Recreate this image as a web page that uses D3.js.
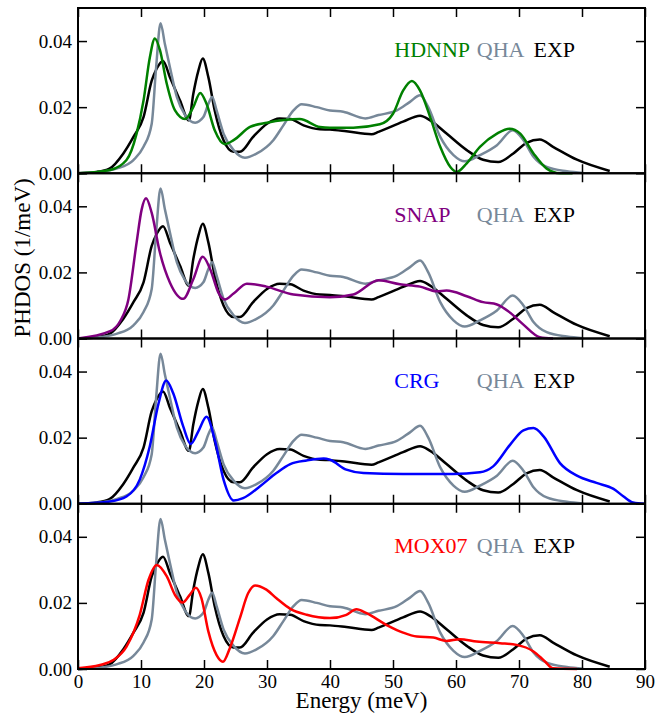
<!DOCTYPE html>
<html>
<head>
<meta charset="utf-8">
<script src="https://cdn.jsdelivr.net/npm/d3@7/dist/d3.min.js"></script>
<style>
  body { margin: 0; background: #fff; }
  text { font-family: "Liberation Serif", "Times New Roman", serif; }
</style>
</head>
<body>
<div id="chart"></div>
<script>
			// Width and height
			var w = 655, h = 716;

			// Measured spectra (energy in meV, PHDOS in 1/meV)
			var expEnergy = [0, 3, 5, 7.2, 8.8, 10.4, 11.7, 12.5, 13.5, 14.6, 16.2, 17.6, 18.3, 19.1, 19.8, 20.7, 21.7, 23.1, 24.7, 25.7, 27.8, 30, 32, 33.7, 35.8, 38.4, 40, 42.6, 46.6, 47.7, 51.6, 54.3, 55.9, 58.5, 61.7, 64.3, 66.7, 69.1, 71.2, 73.3, 75.4, 79.2, 84.4];
			var expDos = [0, 0.0004, 0.0014, 0.006, 0.011, 0.017, 0.028, 0.0317, 0.034, 0.029, 0.022, 0.016, 0.024, 0.031, 0.0347, 0.029, 0.019, 0.010, 0.0065, 0.0065, 0.011, 0.015, 0.0166, 0.0164, 0.0145, 0.0133, 0.0132, 0.0127, 0.0118, 0.0125, 0.0156, 0.0174, 0.016, 0.012, 0.007, 0.0041, 0.0034, 0.006, 0.0092, 0.0102, 0.008, 0.0041, 0.0007];

			var qhaEnergy = [0, 3, 6.1, 8.8, 10.4, 11.7, 12.4, 13.1, 13.8, 14.6, 15.7, 17, 18.6, 19.9, 20.7, 21.3, 22, 23.1, 24.7, 26.5, 28.4, 31, 32.6, 34.2, 35.5, 37.9, 40, 42.1, 45.6, 47.7, 50.6, 52.7, 54.3, 55.6, 57.5, 59.6, 61.4, 63.8, 66.5, 69, 70.7, 72.3, 74.4, 77.6, 80.2];
			var qhaDos = [0, 0.0003, 0.0014, 0.004, 0.008, 0.015, 0.032, 0.0454, 0.039, 0.032, 0.023, 0.0176, 0.0153, 0.017, 0.021, 0.0231, 0.019, 0.012, 0.007, 0.0047, 0.006, 0.010, 0.0145, 0.019, 0.0209, 0.020, 0.019, 0.0186, 0.0166, 0.0176, 0.019, 0.0216, 0.0236, 0.020, 0.011, 0.0055, 0.0036, 0.0055, 0.0085, 0.013, 0.010, 0.005, 0.0019, 0.0006, 0.0001];

			// Model spectra, one per panel
			var hdnnpEnergy = [0, 5.1, 7.7, 9.3, 10.4, 11.4, 12.2, 13, 14.1, 15.4, 17, 18.3, 19.4, 20.4, 21.7, 23.3, 24.7, 27.3, 30, 35.2, 38.4, 40, 43.7, 47.9, 50, 51.6, 53, 54.3, 55.9, 57.5, 59.1, 60.1, 61.7, 63.8, 66.5, 68.5, 70.2, 72.3, 74.4, 76.5, 78.5];
			var hdnnpDos = [0, 0.001, 0.004, 0.012, 0.022, 0.035, 0.0408, 0.0373, 0.027, 0.019, 0.0164, 0.020, 0.0243, 0.021, 0.013, 0.0088, 0.010, 0.014, 0.0153, 0.0164, 0.014, 0.0138, 0.0138, 0.0148, 0.018, 0.025, 0.0279, 0.025, 0.017, 0.008, 0.0019, 0.0004, 0.003, 0.008, 0.012, 0.0135, 0.012, 0.006, 0.0014, 0, 0];

			var snapEnergy = [0, 5.1, 6.7, 8, 9.3, 10.1, 10.8, 11.7, 13, 14.6, 16.7, 18.3, 19.8, 21, 22.3, 23.3, 24.7, 26.8, 29.9, 34.2, 40, 43.7, 47.7, 51.1, 54.3, 56.9, 58.5, 61.7, 64.3, 66.5, 68.6, 70.7, 73.3, 75.4];
			var snapDos = [0, 0.0022, 0.0053, 0.0118, 0.029, 0.039, 0.0424, 0.038, 0.026, 0.0169, 0.012, 0.0179, 0.0247, 0.0209, 0.0138, 0.0118, 0.0136, 0.0166, 0.0157, 0.0133, 0.0125, 0.0133, 0.0176, 0.0164, 0.0157, 0.0143, 0.0145, 0.0128, 0.011, 0.0103, 0.0078, 0.0042, 0.0004, 0];

			var crgEnergy = [0, 5.1, 7.7, 9.8, 11.4, 12.8, 14, 15.1, 16.7, 17.9, 19.1, 20.4, 21.7, 23.1, 24.7, 26.2, 28.9, 31.5, 33.7, 36.3, 39, 40, 42.6, 45.3, 51.6, 59.5, 63.8, 65.9, 68.6, 70.7, 72.3, 73.9, 76.5, 79.2, 82.3, 85, 86.6, 88.1, 90];
			var crgDos = [0, 0.0007, 0.0022, 0.0073, 0.0174, 0.0305, 0.0373, 0.0335, 0.0234, 0.0181, 0.0219, 0.0263, 0.0194, 0.0073, 0.001, 0.0017, 0.0053, 0.0093, 0.012, 0.0131, 0.0137, 0.0133, 0.0103, 0.0093, 0.009, 0.009, 0.0095, 0.0113, 0.0179, 0.0222, 0.0229, 0.0204, 0.0123, 0.0085, 0.0063, 0.0045, 0.0022, 0.0004, 0];

			var moxEnergy = [0, 3.5, 5.6, 7.7, 9.8, 11.2, 12.5, 14.1, 15.4, 16.6, 17.8, 18.7, 19.6, 20.7, 22, 23, 24.1, 25.7, 27, 28.1, 29.9, 31.5, 33.7, 36.3, 40, 42.6, 44.2, 45.8, 49, 51.6, 53.8, 56.4, 58.5, 60.6, 63.3, 67, 69.6, 72.3, 73.9, 75.4, 79.2];
			var moxDos = [0.0002, 0.0012, 0.0027, 0.0068, 0.0164, 0.027, 0.0315, 0.028, 0.0224, 0.0201, 0.0226, 0.0246, 0.0214, 0.0113, 0.0042, 0.0022, 0.0063, 0.0154, 0.0229, 0.0253, 0.024, 0.0214, 0.0182, 0.0164, 0.0154, 0.0164, 0.0181, 0.0169, 0.0133, 0.011, 0.0098, 0.0095, 0.0085, 0.009, 0.0083, 0.0078, 0.0073, 0.0053, 0.0027, 0.0002, 0];

			// Panel labels and colours
			var modelNames = ["HDNNP", "SNAP", "CRG", "MOX07"];
			var modelColors = ["green", "purple", "blue", "red"];
			var modelEnergy = [hdnnpEnergy, snapEnergy, crgEnergy, moxEnergy];
			var modelDos = [hdnnpDos, snapDos, crgDos, moxDos];

			var xTicks = [0, 10, 20, 30, 40, 50, 60, 70, 80, 90];
			var yTicks = [0, 0.02, 0.04];

			var qhaColor = "#778899";

			// Layout
			var plotLeft = 78, plotRight = 645, plotTop = 8, panelH = 165.25;

			var svg = d3.select("#chart")
						.append("svg")
						.attr("width", w)
						.attr("height", h);

			var x = d3.scaleLinear().domain([0, 90]).range([plotLeft, plotRight]);

			function toPoints(es, ds) {
				return es.map(function(e, i) { return [e, ds[i]]; });
			}

			modelNames.forEach(function(name, i) {
				var y0 = plotTop + i * panelH;
				var y = d3.scaleLinear().domain([0, 0.05]).range([y0 + panelH, y0]);

				var line = d3.line()
							.x(function(d) { return x(d[0]); })
							.y(function(d) { return y(d[1]); })
							.curve(d3.curveMonotoneX);

				var g = svg.append("g");

				// curves: EXP, QHA, then the model on top
				g.append("path").attr("d", line(toPoints(expEnergy, expDos)))
					.attr("fill", "none").attr("stroke", "black").attr("stroke-width", 2.5);
				g.append("path").attr("d", line(toPoints(qhaEnergy, qhaDos)))
					.attr("fill", "none").attr("stroke", qhaColor).attr("stroke-width", 2.5);
				g.append("path").attr("d", line(toPoints(modelEnergy[i], modelDos[i])))
					.attr("fill", "none").attr("stroke", modelColors[i]).attr("stroke-width", 2.5);

				// inward ticks on all four sides
				var axL = g.append("g").attr("transform", "translate(" + plotLeft + ",0)")
					.call(d3.axisLeft(y).tickValues(yTicks).tickSize(-9).tickPadding(6).tickFormat(d3.format(".2f")));
				var axR = g.append("g").attr("transform", "translate(" + plotRight + ",0)")
					.call(d3.axisRight(y).tickValues(yTicks).tickSize(-9).tickFormat(""));
				var axT = g.append("g").attr("transform", "translate(0," + y0 + ")")
					.call(d3.axisTop(x).tickValues(xTicks).tickSize(-9).tickFormat(""));
				var axB = g.append("g").attr("transform", "translate(0," + (y0 + panelH) + ")")
					.call(d3.axisBottom(x).tickValues(xTicks).tickSize(-9).tickPadding(6)
						.tickFormat(i == 3 ? d3.format("d") : ""));

				[axL, axR, axT, axB].forEach(function(a) {
					a.select(".domain").remove();
					a.selectAll("line").attr("stroke", "black").attr("stroke-width", 1.5);
					a.selectAll("text").attr("fill", "black").style("font-size", "19px")
						.style("font-family", "'Liberation Serif', 'Times New Roman', serif");
				});

				// frame
				g.append("rect")
					.attr("x", plotLeft).attr("y", y0)
					.attr("width", plotRight - plotLeft).attr("height", panelH)
					.attr("fill", "none").attr("stroke", "black").attr("stroke-width", 2);

				// legend texts
				var ly = y0 + 49;
				g.append("text").text(name).attr("x", x(50.2)).attr("y", ly)
					.attr("fill", modelColors[i]).style("font-size", "22px");
				g.append("text").text("QHA").attr("x", x(63.3)).attr("y", ly)
					.attr("fill", qhaColor).style("font-size", "22px");
				g.append("text").text("EXP").attr("x", x(72.3)).attr("y", ly)
					.attr("fill", "black").style("font-size", "22px");
			});

			// axis titles
			svg.append("text").text("Energy (meV)")
				.attr("x", (plotLeft + plotRight) / 2).attr("y", 708)
				.attr("text-anchor", "middle").style("font-size", "23px");

			svg.append("text").text("PHDOS (1/meV)")
				.attr("transform", "translate(30," + (plotTop + panelH * 1.5 + 2) + ") rotate(-90)")
				.attr("text-anchor", "middle").style("font-size", "23px");
</script>
</body>
</html>
